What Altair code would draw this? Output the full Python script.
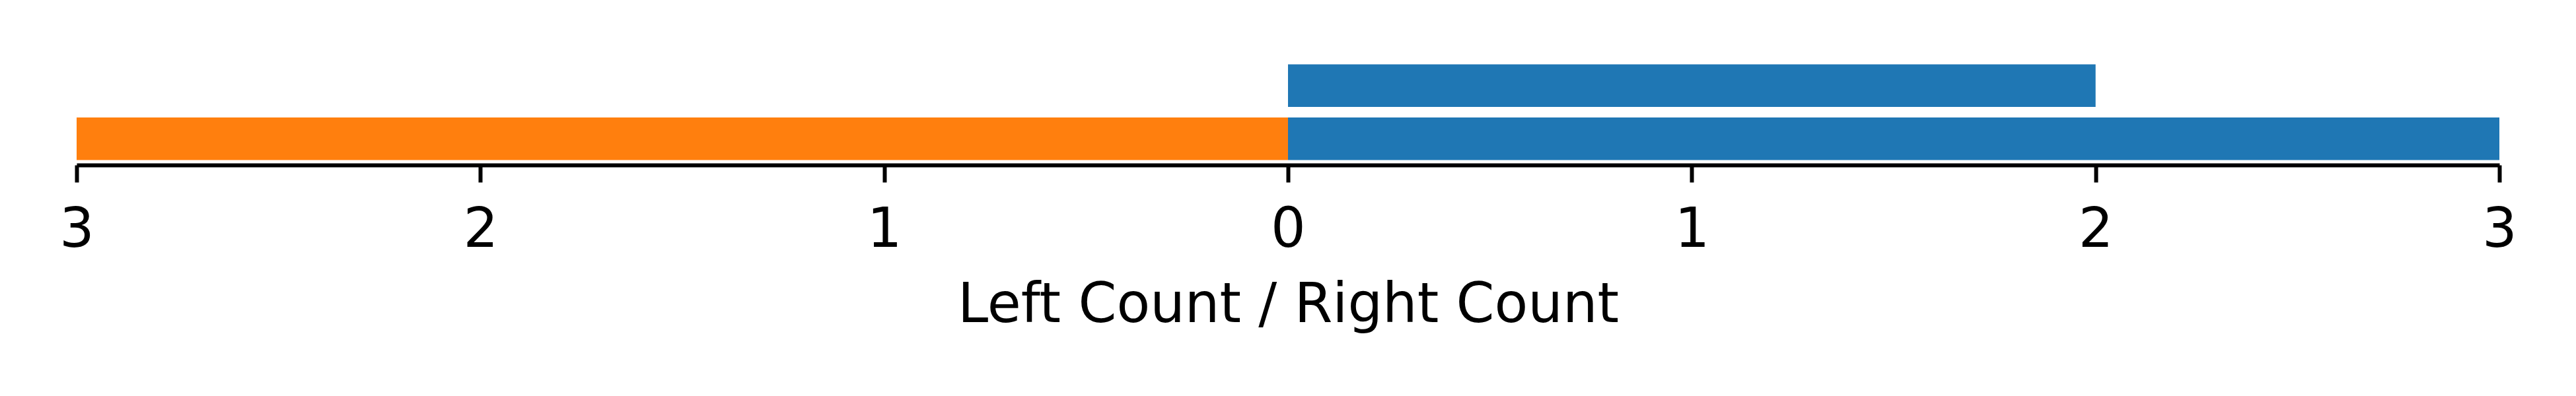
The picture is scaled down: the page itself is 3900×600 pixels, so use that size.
import altair as alt
import pandas as pd

categories = ["Row 1", "Row 2"]          # bottom row, top row
left_counts = [3, 0]
right_counts = [3, 2]
sides = ["Left", "Right"]
side_colors = ["#ff7f0e", "#1f77b4"]
tick_values = [-3, -2, -1, 0, 1, 2, 3]

rows = []
for c, l, r in zip(categories, left_counts, right_counts):
    rows.append({"category": c, "side": "Left", "count": l})
    rows.append({"category": c, "side": "Right", "count": r})
df = pd.DataFrame(rows)

chart = (
    alt.Chart(df)
    .transform_calculate(
        signed="datum.side == 'Left' ? -datum.count : datum.count"
    )
    .mark_bar()
    .encode(
        x=alt.X(
            "signed:Q",
            scale=alt.Scale(domain=[-3, 3], nice=False, zero=False),
            axis=alt.Axis(
                values=tick_values,
                labelExpr="abs(datum.value)",
                title="Left Count / Right Count",
                grid=False,
                domainColor="black",
                domainWidth=6,
                tickColor="black",
                tickWidth=6,
                tickSize=26,
                labelFont="DejaVu Sans",
                labelFontSize=83,
                labelColor="black",
                labelBaseline="alphabetic",
                labelPadding=97,
                labelFlush=False,
                labelOverlap=False,
                titleFont="DejaVu Sans",
                titleFontSize=83,
                titleFontWeight="normal",
                titleColor="black",
                titleBaseline="alphabetic",
                titleY=237,
            ),
        ),
        x2=alt.datum(0),
        y=alt.Y(
            "category:N",
            sort=list(reversed(categories)),
            scale=alt.Scale(paddingInner=0.2, paddingOuter=0.094),
            axis=None,
        ),
        color=alt.Color(
            "side:N",
            scale=alt.Scale(domain=sides, range=side_colors),
            legend=None,
        ),
    )
    .properties(
        width=3668,
        height=160,
        autosize=alt.AutoSizeParams(type="none"),
        padding={"left": 108, "top": 82, "right": 108, "bottom": 330},
        background="white",
    )
    .configure_view(stroke=None)
)

chart.save("out.html", embed_options={"renderer": "svg", "actions": False})
